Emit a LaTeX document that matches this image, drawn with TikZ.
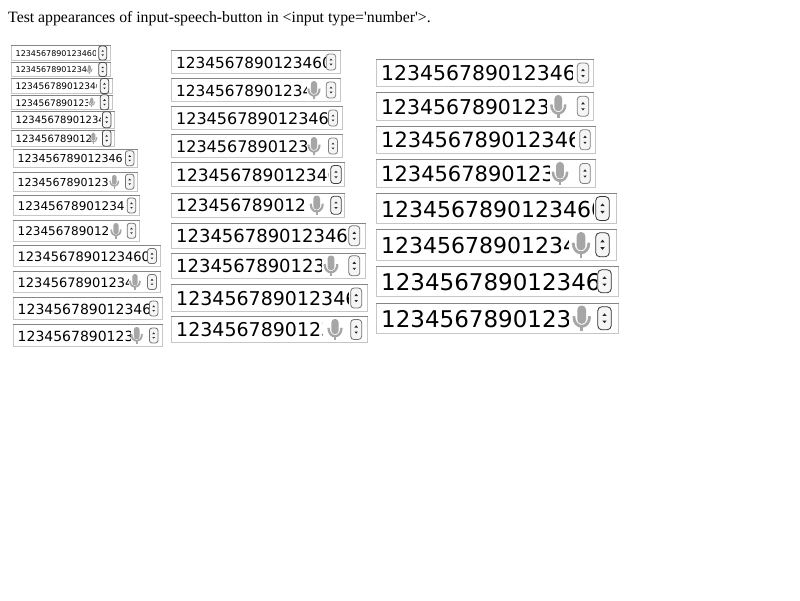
\documentclass[tikz,border=0pt]{standalone}
\usepackage{fontspec}
\newfontfamily\titlefont{Liberation Serif}
\newfontfamily\numfont{DejaVu Sans}
\definecolor{boxtop}{HTML}{858585}
\definecolor{boxedge}{HTML}{C6C6C6}
\definecolor{micgrey}{HTML}{A6A6A6}
\tikzset{
  numtext/.style={anchor=base west,inner sep=0pt,text=black},
  titletext/.style={anchor=base west,inner sep=0pt,text=black,font=\titlefont\fontsize{15.78}{19}\selectfont},
  spinbox/.style={fill=black!4,line width=0.8pt},
  spintip/.style={fill=black!85,draw=none},
}
\begin{document}
\begin{tikzpicture}[x=1pt,y=-1pt]
\useasboundingbox (0,0) rectangle (800,600);
\node[titletext] (title) at (8,22) {Test appearances of input-speech-button in <input type='number'>.};
% x0/y0/x1/y1/font/textx/clip/micx/spinx/spinw/spinh/spin shade (percent black)
\foreach \xa/\ya/\xb/\yb/\fs/\tx/\cl/\mx/\sx/\sw/\sh/\sc [count=\i] in {
 11/45/111/61/8/15.5/95.5/0/102.7/8/14/70,
 11/62/111/77/8/15.5/86/89.3/102.7/8/14/70,
 11/78/113/94/9/15.5/96.7/0/104.5/8.5/15/70,
 11/94.5/113/110/9/15.5/87/91.7/104.5/8.5/15/70,
 11/111/115/128.5/10/15.5/100/0/106.7/8.5/16/70,
 11/129.5/115/147/10/15.5/90.7/93.3/106.7/8.5/16/70,
 13/148.5/138/168/11/17.5/121.7/0/129.7/8.5/15/55,
 13/172/138/191.5/11/17.5/107/114.3/129.7/8.5/15/55,
 13/195/140/216/12/17.5/123/0/131.5/8.5/15/55,
 13/220/140/241.5/12/17.5/108/116/131.5/8.5/15/55,
 13/245/161/267/13/17.5/148/0/152/9/15/55,
 13/271/161/293/13/17.5/128/135/152/9/15/55,
 13/297/163/320/14/17.5/149/0/153.7/8.5/15/55,
 13/324/163/347/14/17.5/130.7/136.7/153.7/8.5/15/55,
 171/50/341/74/15.3/176/325/0/331/9.5/16/50,
 171/78/341/102/15.3/176/306.7/314/331/9.5/16/50,
 171/106/343/130/16/176/327/0/333/9/16/50,
 171/134/343/158/16/176/308/314/333/9/16/50,
 171/162/345/187/17/176/328/0/336/10.5/18/75,
 171/192.5/345/218/17/176/305.7/316.7/336/10.5/18/75,
 171/222.5/366/249/18/176/346.7/0/354.3/11/20/55,
 171/252.5/366/279/18/176/321.7/331/354.3/11/20/55,
 171/284/368/312/19/176/348/0/356.2/11/20/55,
 171/316/368/343/19/176/322/335/356.2/11/20/55,
 376/59/594/87/20.4/381/572.7/0/583/11.5/20/50,
 376/92/594/120.5/20.4/381/546.7/558.3/583/11.5/20/50,
 376/125.5/596/154/21/381/574/0/585/10.5/20/50,
 376/159/596/188/21/381/549/560/585/10.5/20/50,
 376/193/617/224/22/381/593/0/602.5/13.5/24/80,
 376/229/617/260.5/22/381/568/581/602.5/13.5/24/80,
 376/265.5/619/297/23/381/596.7/0/604.5/13.5/23/80,
 376/302.5/619/334/23/381/568/581.7/604.5/13.5/23/80}
{
  \pgfmathsetmacro{\ymid}{(\ya+\yb)/2}
  \pgfmathsetmacro{\base}{\ymid+0.36*\fs+0.6}
  % field frame
  \fill[white] (\xa,\ya) rectangle (\xb,\yb);
  \draw[boxedge,line width=1pt] (\xa+.5,\ya+.5) rectangle (\xb-.5,\yb-.5);
  \draw[boxtop,line width=1pt] (\xa,\ya+.5) -- (\xb,\ya+.5);
  % clipped value
  \begin{scope}
    \clip (\xa,\ya) rectangle (\cl,\yb);
    \node[numtext,font=\numfont\fontsize{\fs}{\fs}\selectfont] (val\i) at (\tx,\base) {1234567890123460};
  \end{scope}
  % speech button
  \ifdim\mx pt>0pt
    \pgfmathsetmacro{\mh}{\yb-\ya-6}
    \pgfmathsetmacro{\mw}{0.11*\mh}
    \pgfmathsetmacro{\mr}{0.16*\mh}
    \begin{scope}[shift={(\mx,\ya+3)},scale=\mh]
      \fill[micgrey,rounded corners=\mr pt] (-.17,0) rectangle (.17,.72);
      \draw[micgrey,line width=\mw pt] (-.31,.42) .. controls (-.31,.95) and (.31,.95) .. (.31,.42);
      \draw[micgrey,line width=\mw pt] (0,.75) -- (0,1);
    \end{scope}
  \fi
  % spin control
  \pgfmathsetmacro{\tw}{0.16*\sw}
  \pgfmathsetmacro{\th}{0.11*\sh}
  \pgfmathsetmacro{\sr}{0.3*\sw}
  \draw[spinbox,draw=black!\sc,rounded corners=\sr pt] (\sx-\sw/2,\ymid-\sh/2) rectangle (\sx+\sw/2,\ymid+\sh/2);
  \fill[spintip] (\sx-\tw,\ymid-.1*\sh) -- (\sx+\tw,\ymid-.1*\sh) -- (\sx,\ymid-.1*\sh-\th) -- cycle;
  \fill[spintip] (\sx-\tw,\ymid+.1*\sh) -- (\sx+\tw,\ymid+.1*\sh) -- (\sx,\ymid+.1*\sh+\th) -- cycle;
}
\end{tikzpicture}
\end{document}
